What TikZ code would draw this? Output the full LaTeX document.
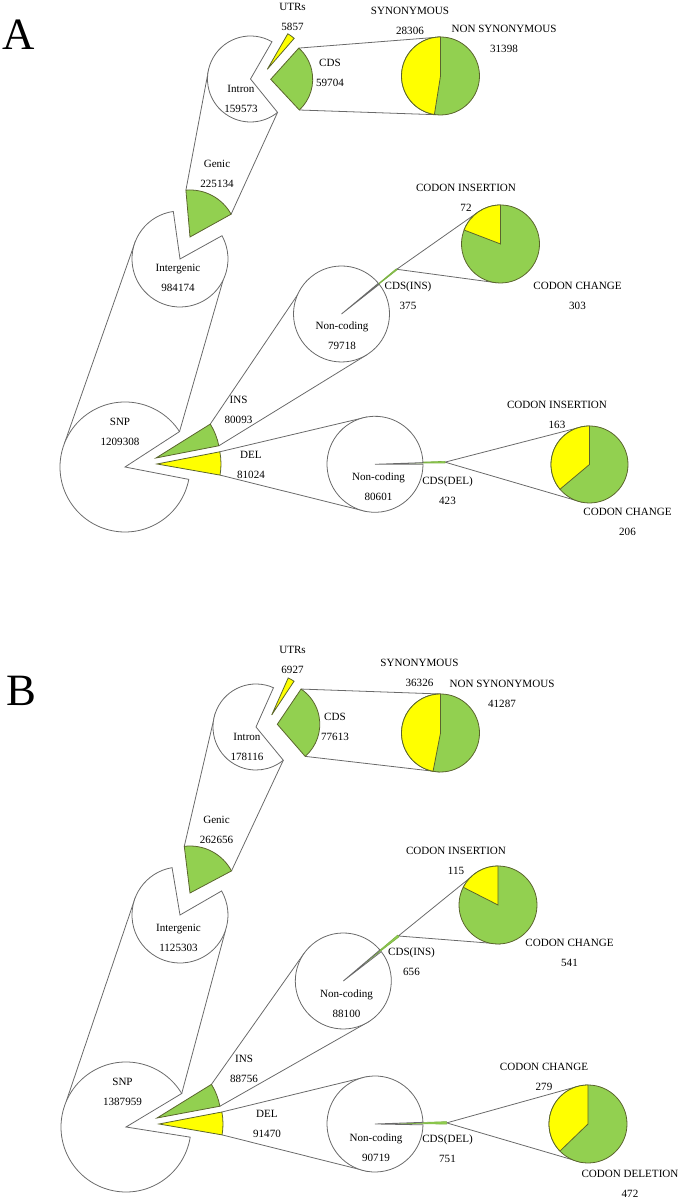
\documentclass[tikz,border=0pt]{standalone}
\usepackage{fontspec}
\setmainfont{Liberation Serif}
\usepackage{tikz}

\definecolor{pieGreen}{RGB}{146,208,80}
\definecolor{pieYellow}{RGB}{255,255,0}
\definecolor{rimGray}{RGB}{105,105,105}
\definecolor{rimOlive}{RGB}{90,100,45}

% pie with a gap from #3 to #4 (centre, radius, from, to)
\newcommand{\pieopen}[4]{\draw[open pie] (#1) -- ++(#4:#2) arc[start angle=#4, end angle={#3+360}, radius=#2] -- cycle;}
% slice: apex, radius, from, to, style
\newcommand{\pieslice}[5]{\draw[#5] (#1) -- ++(#3:#2) arc[start angle=#3, end angle=#4, radius=#2] -- cycle;}
% green pie with a yellow part from 90 to #3
\newcommand{\pietwo}[3]{\draw[green slice] (#1) circle[radius=#2];
  \pieslice{#1}{#2}{90}{#3}{yellow slice}}

\begin{document}
\begin{tikzpicture}[x=0.02cm, y=0.02cm,
					lbl/.style={align=center, inner sep=0pt, font=\fontsize{6.3}{11.4}\selectfont},
					panel/.style={inner sep=0pt, font=\fontsize{25.5}{30}\selectfont},
					open pie/.style={draw=rimGray, fill=white, line width=0.45pt},
					green slice/.style={draw=rimOlive, fill=pieGreen, line width=0.45pt},
					yellow slice/.style={draw=rimOlive, fill=pieYellow, line width=0.45pt},
					thin slice/.style={draw=pieGreen!85!black, fill=pieGreen, line width=0.35pt},
					link/.style={draw=rimGray, line width=0.45pt}]

  \useasboundingbox (0,0) rectangle (689,1200);

  % ---- A ----
  \coordinate (snpA) at (125,733);
  \coordinate (insA) at (156,742);
  \coordinate (delA) at (157,736);
  \coordinate (igA) at (180,941);
  \coordinate (genA) at (190,963);
  \coordinate (inA) at (250.5,1121);
  \coordinate (cdsA) at (270.7,1120.7);
  \coordinate (utrA) at (267.3,1130.7);
  \coordinate (synA) at (440.5,1124);
  \coordinate (ncInsA) at (341.5,886);
  \coordinate (cdsInsA) at (359.4,900.5);
  \coordinate (codInsA) at (500.5,956);
  \coordinate (ncDelA) at (375,735.7);
  \coordinate (cdsDelA) at (397,737);
  \coordinate (codDelA) at (589.5,735.5);

  \draw[link]
    ([shift={(159:65)}]snpA) -- ([shift={(158:48)}]igA)
    ([shift={(33:65)}]snpA) -- ([shift={(-26:48)}]igA)
    ([shift={(95:47)}]genA) -- ([shift={(166:43)}]inA)
    ([shift={(29:47)}]genA) -- ([shift={(-51:43)}]inA)
    ([shift={(48:42)}]cdsA) -- ([shift={(90:39)}]synA)
    ([shift={(-47:42)}]cdsA) -- ([shift={(263:39)}]synA)
    ([shift={(32:64)}]insA) -- ([shift={(135:48)}]ncInsA)
    ([shift={(11:64)}]insA) -- ([shift={(-58:48)}]ncInsA)
    ([shift={(11:64)}]delA) -- ([shift={(99.5:48)}]ncDelA)
    ([shift={(-10:64)}]delA) -- ([shift={(-101:48)}]ncDelA)
    ([shift={(39:48)}]cdsInsA) -- ([shift={(124:39)}]codInsA)
    ([shift={(39:48)}]cdsInsA) -- ([shift={(265:39)}]codInsA)
    ([shift={(1:48)}]cdsDelA) -- ([shift={(109:38.5)}]codDelA)
    ([shift={(1:48)}]cdsDelA) -- ([shift={(259:38.5)}]codDelA);

  \pieopen{snpA}{65}{-11}{33}
  \pieslice{insA}{64}{11}{32}{green slice}
  \pieslice{delA}{64}{-10}{11}{yellow slice}
  \pieopen{igA}{48}{29}{98}
  \pieslice{genA}{47}{29}{95}{green slice}
  \pieopen{inA}{43}{-51}{60}
  \pieslice{cdsA}{42}{-47}{48}{green slice}
  \pieslice{utrA}{41}{49}{60}{yellow slice}
  \pietwo{synA}{39}{261}
  \pieslice{cdsInsA}{48}{38.2}{39.8}{thin slice}
  \pieopen{ncInsA}{48}{38.2}{39.8}
  \pietwo{codInsA}{39}{159}
  \pieslice{cdsDelA}{48}{0}{2}{thin slice}
  \pieopen{ncDelA}{48}{0}{2}
  \pietwo{codDelA}{38.5}{220}

  \node[panel] (pA) at (18.3,1165) {A};
  \node[lbl] (tUtrA) at (292.5,1183.5) {UTRs\\5857};
  \node[lbl] (tCdsA) at (330,1127) {CDS\\59704};
  \node[lbl] (tInA) at (241,1101) {Intron\\159573};
  \node[lbl] (tGenA) at (217,1026.5) {Genic\\225134};
  \node[lbl] (tIgA) at (178,922) {Intergenic\\984174};
  \node[lbl] (tSynA) at (410,1179) {SYNONYMOUS\\28306};
  \node[lbl] (tNsynA) at (504,1161) {NON SYNONYMOUS\\31398};
  \node[lbl] (tSnpA) at (120,768) {SNP\\1209308};
  \node[lbl] (tInsA) at (238.5,790) {INS\\80093};
  \node[lbl] (tDelA) at (251,735) {DEL\\81024};
  \node[lbl] (tNcInsA) at (342,864.5) {Non-coding\\79718};
  \node[lbl] (tCdsInsA) at (408,904) {CDS(INS)\\375};
  \node[lbl] (tCiInsA) at (466,1002) {CODON INSERTION\\72};
  \node[lbl] (tCcInsA) at (577.5,904) {CODON CHANGE\\303};
  \node[lbl] (tNcDelA) at (378.5,713) {Non-coding\\80601};
  \node[lbl] (tCdsDelA) at (447.5,709) {CDS(DEL)\\423};
  \node[lbl] (tCiDelA) at (557,785) {CODON INSERTION\\163};
  \node[lbl] (tCcDelA) at (627.5,678) {CODON CHANGE\\206};

  % ---- B ----
  \coordinate (snpB) at (126,73);
  \coordinate (insB) at (157,82);
  \coordinate (delB) at (159,76);
  \coordinate (igB) at (180,285);
  \coordinate (genB) at (190,307);
  \coordinate (inB) at (256,473);
  \coordinate (cdsB) at (277.3,475.7);
  \coordinate (utrB) at (271.7,485);
  \coordinate (synB) at (440.5,467);
  \coordinate (ncInsB) at (343.3,219);
  \coordinate (cdsInsB) at (361,233.8);
  \coordinate (codInsB) at (498,295);
  \coordinate (ncDelB) at (375,76);
  \coordinate (cdsDelB) at (398.7,76.7);
  \coordinate (codDelB) at (588,76);

  \draw[link]
    ([shift={(157:65)}]snpB) -- ([shift={(159:48)}]igB)
    ([shift={(31:65)}]snpB) -- ([shift={(-18:48)}]igB)
    ([shift={(97:47)}]genB) -- ([shift={(162:43)}]inB)
    ([shift={(28:47)}]genB) -- ([shift={(-50.6:43)}]inB)
    ([shift={(56:42.5)}]cdsB) -- ([shift={(90:39)}]synB)
    ([shift={(-49:42.5)}]cdsB) -- ([shift={(269:39)}]synB)
    ([shift={(31.7:64)}]insB) -- ([shift={(145:48)}]ncInsB)
    ([shift={(10.6:64)}]insB) -- ([shift={(-57:48)}]ncInsB)
    ([shift={(10.8:64)}]delB) -- ([shift={(99.5:48)}]ncDelB)
    ([shift={(-9.8:64)}]delB) -- ([shift={(-99:48)}]ncDelB)
    ([shift={(39:48)}]cdsInsB) -- ([shift={(136:39)}]codInsB)
    ([shift={(39:48)}]cdsInsB) -- ([shift={(273:39)}]codInsB)
    ([shift={(0.5:48)}]cdsDelB) -- ([shift={(106.6:39)}]codDelB)
    ([shift={(0.5:48)}]cdsDelB) -- ([shift={(261:39)}]codDelB);

  \pieopen{snpB}{65}{-9}{31}
  \pieslice{insB}{64}{10.6}{31.7}{green slice}
  \pieslice{delB}{64}{-9.8}{10.8}{yellow slice}
  \pieopen{igB}{48}{30}{99.5}
  \pieslice{genB}{47}{28}{97}{green slice}
  \pieopen{inB}{43}{-50.6}{66}
  \pieslice{cdsB}{42.5}{-49}{56}{green slice}
  \pieslice{utrB}{40.5}{56.5}{66}{yellow slice}
  \pietwo{synB}{39}{259}
  \pieslice{cdsInsB}{48}{37.7}{40.3}{thin slice}
  \pieopen{ncInsB}{48}{37.7}{40.3}
  \pietwo{codInsB}{39}{153}
  \pieslice{cdsDelB}{48}{-1}{2}{thin slice}
  \pieopen{ncDelB}{48}{-1}{2}
  \pietwo{codDelB}{39}{224}

  \node[panel] (pB) at (21.7,509) {B};
  \node[lbl] (tUtrB) at (292.5,540) {UTRs\\6927};
  \node[lbl] (tCdsB) at (335,473) {CDS\\77613};
  \node[lbl] (tInB) at (247,453) {Intron\\178116};
  \node[lbl] (tGenB) at (216.5,370) {Genic\\262656};
  \node[lbl] (tIgB) at (178.5,262.5) {Intergenic\\1125303};
  \node[lbl] (tSynB) at (419.5,527) {SYNONYMOUS\\36326};
  \node[lbl] (tNsynB) at (502,506) {NON SYNONYMOUS\\41287};
  \node[lbl] (tSnpB) at (122.5,108.5) {SNP\\1387959};
  \node[lbl] (tInsB) at (244,131) {INS\\88756};
  \node[lbl] (tDelB) at (267,76) {DEL\\91470};
  \node[lbl] (tNcInsB) at (346.5,196) {Non-coding\\88100};
  \node[lbl] (tCdsInsB) at (411.5,238.5) {CDS(INS)\\656};
  \node[lbl] (tCiInsB) at (456,339) {CODON INSERTION\\115};
  \node[lbl] (tCcInsB) at (569.5,247) {CODON CHANGE\\541};
  \node[lbl] (tNcDelB) at (376,52) {Non-coding\\90719};
  \node[lbl] (tCdsDelB) at (447.5,51) {CDS(DEL)\\751};
  \node[lbl] (tCcDelB) at (544,123) {CODON CHANGE\\279};
  \node[lbl] (tCdDelB) at (630,16.5) {CODON DELETION\\472};
\end{tikzpicture}
\end{document}
